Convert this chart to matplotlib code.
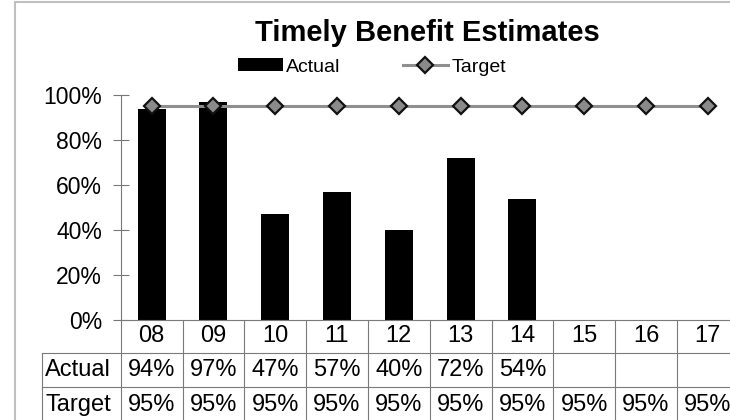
import numpy as np
import matplotlib
matplotlib.use("Agg")
import matplotlib.pyplot as plt
from matplotlib.patches import Rectangle

plt.rcParams["font.family"] = ["Liberation Sans", "DejaVu Sans"]

# chart data
years = ["08", "09", "10", "11", "12", "13", "14", "15", "16", "17"]
actual = [0.94, 0.97, 0.47, 0.57, 0.40, 0.72, 0.54]
target = [0.95] * 10
actual_labels = ["94%", "97%", "47%", "57%", "40%", "72%", "54%"]
target_labels = ["95%"] * 10
yticks = [0, 0.2, 0.4, 0.6, 0.8, 1.0]
ytick_labels = ["0%", "20%", "40%", "60%", "80%", "100%"]

W, H = 730, 420
fig = plt.figure(figsize=(W / 100, H / 100), dpi=100)

# axes placed in pixel terms; right side runs past the image edge like the source
left_px, right_px, top_px, bot_px = 120.7, 738.7, 95, 320
ax = fig.add_axes([left_px / W, 1 - bot_px / H,
                   (right_px - left_px) / W, (bot_px - top_px) / H])

x = np.arange(len(years))
bars = ax.bar(x[:len(actual)], actual, width=0.45, color="black", label="Actual", zorder=2)
line, = ax.plot(x, target, color="#8f8f8f", lw=2.2, marker="D", markersize=8.5,
                markerfacecolor="#8a8a8a", markeredgecolor="#111111", markeredgewidth=1.6,
                label="Target", zorder=3, clip_on=False)

ax.set_xlim(-0.5, len(years) - 0.5)
ax.set_ylim(0, 1)
ax.set_yticks(yticks)
ax.set_yticklabels(ytick_labels, fontsize=16.5)
ax.tick_params(axis="y", direction="inout", length=11, width=0.8, color="#777777", pad=8)
ax.set_xticks([])
for s in ["top", "right", "bottom"]:
    ax.spines[s].set_visible(False)
ax.spines["left"].set_color("#777777")
ax.spines["left"].set_linewidth(0.8)

# data table under the plot
tr = ax.get_xaxis_transform()
grid_c = "#7a7a7a"
row_lines = [0.0, -0.145, -0.298, -0.449]
label_left = -1.778
ax.plot([-0.5, len(years) - 0.5], [0, 0], color=grid_c, lw=0.8, transform=tr, clip_on=False)
for yl in row_lines[1:]:
    ax.plot([label_left, len(years) - 0.5], [yl, yl], color=grid_c, lw=0.8,
            transform=tr, clip_on=False)
for k in range(len(years) + 1):
    ax.plot([k - 0.5, k - 0.5], [0, row_lines[-1]], color=grid_c, lw=0.8,
            transform=tr, clip_on=False)
ax.plot([label_left, label_left], [row_lines[1], row_lines[-1]], color=grid_c, lw=0.8,
        transform=tr, clip_on=False)

fs = 17
for i, yr in enumerate(years):
    ax.text(i, -0.071, yr, transform=tr, ha="center", va="center", fontsize=fs)
for i, lab in enumerate(actual_labels):
    ax.text(i, -0.222, lab, transform=tr, ha="center", va="center", fontsize=fs)
for i, lab in enumerate(target_labels):
    ax.text(i, -0.378, lab, transform=tr, ha="center", va="center", fontsize=fs)
ax.text(-1.19, -0.222, "Actual", transform=tr, ha="center", va="center", fontsize=fs)
ax.text(-1.19, -0.378, "Target", transform=tr, ha="center", va="center", fontsize=fs)

fig.text(427 / W, 1 - 41 / H, "Timely Benefit Estimates", ha="center", va="baseline",
         fontsize=21, fontweight="bold")

fig.legend([bars, line], ["Actual", "Target"], loc="center",
           bbox_to_anchor=(372 / W, 1 - 67 / H), ncol=2, frameon=False,
           fontsize=14, handlelength=2.3, handletextpad=0.2, columnspacing=3.2,
           borderpad=0, handleheight=0.65)

# outer chart border (right and bottom edges cut off in the source)
fig.patches.append(Rectangle((14.5 / W, -0.2), 1.2, 1.2 - 2 / H, transform=fig.transFigure,
                             fill=False, edgecolor="#c0c0c0", lw=1.5))

fig.savefig("out.png", dpi=100)
